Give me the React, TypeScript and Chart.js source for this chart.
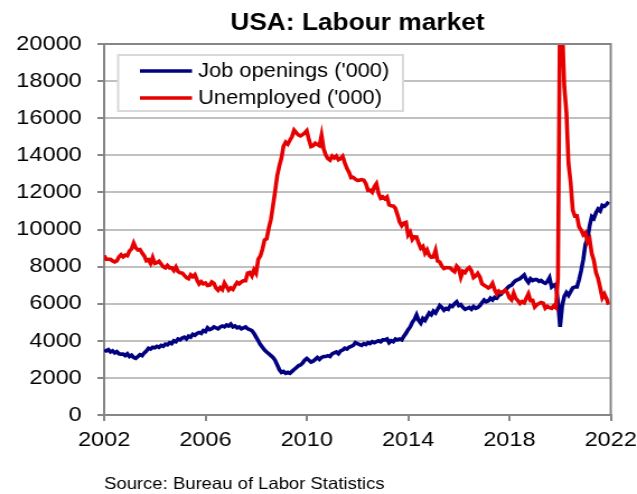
import React, { useEffect, useRef } from "react";
import { Chart, registerables } from "chart.js";

Chart.register(...registerables);

// ---------------- data ----------------
const TITLE = "USA: Labour market";
const SOURCE = "Source: Bureau of Labor Statistics";
const FIRST_YEAR = 2002;
const LAST_YEAR = 2022;
const TICK_YEARS = [2002, 2006, 2010, 2014, 2018, 2022];
const Y_MIN = 0;
const Y_MAX = 20000;
const Y_STEP = 2000;
const JOB_LABEL = "Job openings ('000)";
const UNEMP_LABEL = "Unemployed ('000)";

// monthly, thousands
const JOB_OPENINGS = [
  3500, 3450, 3520, 3400, 3460, 3350, 3420, 3300, 3280,
  3280, 3200, 3300, 3150, 3220, 3100, 3050, 3150, 3250, 3200, 3350, 3450,
  3600, 3550, 3650, 3620, 3700, 3650, 3750, 3700, 3820, 3780, 3900, 3850,
  4000, 3950, 4100, 4050, 4150, 4200, 4100, 4250, 4200, 4350, 4300, 4400,
  4450, 4400, 4550, 4500, 4700, 4600, 4650, 4750, 4700, 4650, 4750, 4800,
  4750, 4850, 4800, 4900, 4750, 4800, 4700, 4750, 4650, 4700, 4750, 4650,
  4600, 4550, 4400, 4200, 4000, 3800, 3650, 3500, 3400, 3300, 3200, 3100,
  2950, 2700, 2450, 2300, 2350, 2250, 2300, 2250, 2350, 2450, 2550, 2650,
  2700, 2800, 2950, 3050, 2950, 2850, 2900, 3000, 3100, 3000, 3100, 3150,
  3150, 3200, 3150, 3300, 3350, 3400, 3300, 3450, 3500, 3600, 3550, 3650,
  3700, 3750, 3900, 3850, 3800, 3750, 3850, 3800, 3900, 3850, 3950, 3900,
  3950, 4000, 3950, 4050, 4050, 4100, 3900, 4000, 3950, 4100, 4050, 4100,
  4050, 4250, 4400, 4600, 4750, 5000, 5150, 5400, 5100, 4950, 5200, 5100,
  5300, 5500, 5400, 5600, 5500, 5700, 5900, 5800, 5650, 5750, 5700, 5900,
  5850, 6000, 6100, 5900, 5950, 5800, 5700, 5750, 5800, 5700, 5850, 5750,
  5800, 5900, 6050, 6200, 6100, 6150, 6300, 6200, 6350, 6300, 6450, 6500,
  6650, 6700, 6850, 6950, 7000, 7150, 7250, 7300, 7350, 7450, 7550, 7300,
  7150, 7350, 7250, 7300, 7300, 7200, 7250, 7150, 7100, 7200, 7400, 6900,
  7000, 7050, 6100, 4750, 5900, 6400, 6600, 6450, 6650, 6850, 6900, 6900,
  7300, 7800, 8400, 9200, 9500, 10200, 10700, 10600, 10900, 11100, 11000, 11300,
  11250, 11350, 11500,
];

const UNEMPLOYED = [
  8599, 8399, 8393, 8390, 8304, 8251, 8307, 8520, 8640,
  8520, 8618, 8588, 8842, 8957, 9266, 9011, 8896, 8921, 8732, 8576, 8317,
  8370, 8167, 8491, 8170, 8212, 8286, 8136, 7990, 7927, 8061, 7932, 7934,
  7784, 7980, 7737, 7672, 7651, 7524, 7406, 7345, 7553, 7453, 7566, 7279,
  7064, 7184, 7072, 7120, 6980, 7001, 7175, 7091, 6847, 6727, 6872, 6762,
  7116, 6927, 6731, 6850, 6766, 6979, 7149, 7067, 7170, 7237, 7240, 7645,
  7685, 7497, 7822, 7637, 8395, 8575, 8937, 9438, 9494, 10074, 10538, 11286,
  12058, 12898, 13426, 13853, 14499, 14707, 14601, 14814, 15009, 15352, 15219, 15098,
  15046, 15113, 15202, 15325, 14849, 14474, 14512, 14648, 14579, 14516, 15081, 14348,
  14013, 13820, 13737, 13957, 13855, 13962, 13763, 13818, 13948, 13594, 13302, 13093,
  12797, 12813, 12713, 12646, 12660, 12692, 12656, 12471, 12115, 12124, 12005, 12298,
  12471, 11950, 11689, 11760, 11654, 11751, 11335, 11279, 11270, 11136, 10787, 10404,
  10202, 10349, 10380, 9702, 9859, 9460, 9608, 9599, 9262, 8990, 9090, 8717,
  8903, 8610, 8504, 8526, 8875, 8299, 8248, 8029, 7896, 7942, 7935, 7927,
  7800, 7724, 8030, 7909, 7429, 7744, 7678, 7859, 7951, 7777, 7404, 7490,
  7635, 7442, 7079, 6996, 6931, 6850, 6917, 7101, 6755, 6520, 6678, 6596,
  6630, 6735, 6601, 6322, 6207, 6579, 6286, 6164, 6016, 6114, 6045, 6294,
  6532, 6171, 6175, 5824, 5949, 6007, 6069, 6031, 5760, 5860, 5787, 5753,
  5892, 5787, 7370, 23078, 20985, 17697, 16308, 13542, 12535, 11049, 10728, 10736,
  10130, 9972, 9710, 9812, 9316, 9484, 8702, 8338, 7674, 7362, 6858, 6319,
  6516, 6270, 5952,
];

// ---------------- look ----------------
const W = 637;
const H = 494;
const SX = 1.12; // horizontal stretch of the original picture
const CW = Math.round(W / SX);
const FONT = '"Liberation Sans", Arial, Helvetica, sans-serif';
const BLUE = "#000080";
const RED = "#e60000";
const AXIS = "#868686";
const GRID = "#c0c0c0";
const SRC_SIZE = 16.5;
const SRC_PAD_TOP = 3;

const toPoints = (arr: number[]) => arr.map((y, i) => ({ x: FIRST_YEAR + i / 12, y }));

const frameAndLegend = {
  id: "frameAndLegend",
  afterDatasetsDraw(chart: any) {
    const { ctx, chartArea: a } = chart;
    ctx.save();
    ctx.strokeStyle = AXIS;
    ctx.lineWidth = 2;
    ctx.beginPath();
    ctx.moveTo(a.left, a.top);
    ctx.lineTo(a.right, a.top);
    ctx.lineTo(a.right, a.bottom);
    ctx.stroke();

    const bx = a.left + 12.5;
    const by = a.top + 11;
    const bw = 254.5;
    const bh = 56;
    ctx.fillStyle = "#ffffff";
    ctx.fillRect(bx, by, bw, bh);
    ctx.strokeStyle = "#d9d9d9";
    ctx.lineWidth = 2;
    ctx.strokeRect(bx, by, bw, bh);
    chart.data.datasets.forEach((ds: any, i: number) => {
      const y = a.top + 27 + i * 27;
      ctx.strokeStyle = ds.borderColor;
      ctx.lineWidth = 3.6;
      ctx.beginPath();
      ctx.moveTo(a.left + 32, y);
      ctx.lineTo(a.left + 78.5, y);
      ctx.stroke();
      ctx.fillStyle = "#000";
      ctx.font = `19.5px ${FONT}`;
      ctx.textBaseline = "middle";
      ctx.textAlign = "left";
      ctx.fillText(ds.label, a.left + 84, y + 1);
    });
    ctx.restore();
  },
};

export default function App() {
  const ref = useRef<HTMLCanvasElement | null>(null);

  useEffect(() => {
    if (!ref.current) return;
    const chart = new Chart(ref.current, {
      type: "line",
      data: {
        datasets: [
          {
            label: JOB_LABEL,
            data: toPoints(JOB_OPENINGS),
            borderColor: BLUE,
            backgroundColor: BLUE,
            borderWidth: 3.6,
            pointRadius: 0,
            tension: 0,
            order: 1,
          },
          {
            label: UNEMP_LABEL,
            data: toPoints(UNEMPLOYED),
            borderColor: RED,
            backgroundColor: RED,
            borderWidth: 3.6,
            pointRadius: 0,
            tension: 0,
            order: 0,
          },
        ],
      },
      options: {
        responsive: false,
        animation: false,
        events: [],
        layout: { padding: { left: 0, right: CW - 611 / SX, top: 0, bottom: 0 } },
        plugins: {
          legend: { display: false },
          tooltip: { enabled: false },
          title: {
            display: true,
            text: TITLE,
            fullSize: false,
            color: "#000",
            font: { family: FONT, size: 23.5, weight: "bold", lineHeight: 1.2 },
            padding: { top: 9.5, bottom: 6.3 },
          },
          subtitle: {
            display: true,
            text: SOURCE,
            position: "bottom",
            align: "start",
            fullSize: false,
            color: "#000",
            font: { family: FONT, size: SRC_SIZE, lineHeight: 1.2 },
            padding: { top: SRC_PAD_TOP, bottom: 0 },
          },
        },
        scales: {
          x: {
            type: "linear",
            min: FIRST_YEAR,
            max: LAST_YEAR,
            afterBuildTicks: (s: any) => {
              s.ticks = TICK_YEARS.map((value) => ({ value }));
            },
            afterFit: (s: any) => {
              s.height = H - 415 - (SRC_SIZE * 1.2 + SRC_PAD_TOP);
              s.paddingLeft = 0;
              s.paddingRight = 0;
            },
            grid: {
              display: true,
              drawOnChartArea: false,
              drawTicks: true,
              tickLength: 6,
              tickColor: AXIS,
              tickWidth: 2,
              lineWidth: 2,
              color: AXIS,
            },
            border: { display: true, color: AXIS, width: 2 },
            ticks: {
              color: "#000",
              font: { family: FONT, size: 21 },
              padding: 7,
              maxRotation: 0,
              autoSkip: false,
              callback: (v: any) => String(v),
            },
          },
          y: {
            min: Y_MIN,
            max: Y_MAX,
            afterFit: (s: any) => {
              s.width = 93;
              s.paddingTop = 0;
              s.paddingBottom = 0;
            },
            grid: {
              color: GRID,
              lineWidth: 2,
              drawTicks: true,
              tickLength: 6,
              tickColor: AXIS,
              tickWidth: 2,
            },
            border: { display: true, color: AXIS, width: 2 },
            ticks: {
              stepSize: Y_STEP,
              color: "#000",
              font: { family: FONT, size: 21 },
              padding: 14,
              callback: (v: any) => String(v),
            },
          },
        },
      },
      plugins: [frameAndLegend],
    });
    return () => chart.destroy();
  }, []);

  return (
    <div style={{ position: "absolute", left: 0, top: 0, width: W, height: H, background: "#fff" }}>
      <canvas
        ref={ref}
        width={CW}
        height={H}
        style={{ display: "block", width: `${W}px`, height: `${H}px` }}
      />
    </div>
  );
}
